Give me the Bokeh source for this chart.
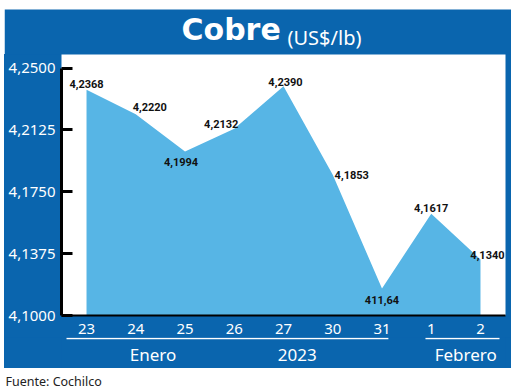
from bokeh.plotting import figure
from bokeh.models import (Range1d, FixedTicker, CustomJSTickFormatter, LinearAxis,
                          ColumnDataSource)
from bokeh.layouts import column
from bokeh.core.properties import value
from bokeh.embed import file_html
from bokeh.resources import INLINE

# ---- data ----
days = ["23", "24", "25", "26", "27", "30", "31", "1", "2"]
prices = [4.2368, 4.2220, 4.1994, 4.2132, 4.2390, 4.1853, 4.1164, 4.1617, 4.1340]
price_labels = ["4,2368", "4,2220", "4,1994", "4,2132", "4,2390", "4,1853", "411,64", "4,1617", "4,1340"]
months = ["Enero", "2023", "Febrero"]
y_ticks = [4.1000, 4.1375, 4.1750, 4.2125, 4.2500]
y_base = 4.10
title_main = "Cobre"
title_unit = "(US$/lb)"
source_note = "Fuente: Cochilco"

# ---- layout / style ----
BLUE = "#0a65ae"
LIGHT = "#57b5e5"
W = 507
LEFT, RIGHT = 57, 6
label_dx = [0, 14, -4, -13, 2, 19, 0, 0, 7]
label_dy = [-6, -7, 10, -5, -4, 0, 12, -6, -4]
month_pos = [1.35, 4.28, 7.70]
underline_x0 = [-0.406, 6.883]
underline_x1 = [6.13, 8.386]
xr = Range1d(-0.508, 8.508)


def bare(fig, fill):
    fig.border_fill_color = fill
    fig.background_fill_color = fill
    fig.outline_line_color = None
    fig.xgrid.visible = False
    fig.ygrid.visible = False
    return fig


# ---- title band (white strip above, blue band below) ----
pt = figure(width=W, height=54, output_backend="svg", toolbar_location=None,
            x_range=Range1d(0, W), y_range=Range1d(0, 54), min_border=0,
            x_axis_type=None, y_axis_type=None, frame_align=False)
bare(pt, "white")
pt.quad(left=[0], right=[W], bottom=[0], top=[45], fill_color=BLUE, line_color=None)
pt.text(x=[177], y=[25], text=[title_main], text_font=value("DejaVu Sans"), text_font_style="bold",
        text_font_size="30px", text_color="white", text_baseline="middle", text_align="left")
pt.text(x=[283], y=[17], text=[title_unit], text_font=value("Noto Sans"),
        text_font_size="20px", text_color="white", text_baseline="alphabetic", text_align="left")

# ---- main chart ----
src = ColumnDataSource(dict(x=list(range(len(days))), y=prices, lab=price_labels,
                            dx=label_dx, dy=label_dy))

p = figure(width=W, height=283, output_backend="svg", toolbar_location=None,
           x_range=xr, y_range=Range1d(4.10, 4.2582),
           min_border_left=LEFT, min_border_right=RIGHT, min_border_top=0, min_border_bottom=22,
           x_axis_location=None, y_axis_location=None)
bare(p, BLUE)
p.background_fill_color = "white"

p.varea(x="x", y1=y_base, y2="y", source=src, fill_color=LIGHT)
p.text(x="x", y="y", text="lab", x_offset="dx", y_offset="dy", source=src,
       text_align="center", text_baseline="middle", text_font=value("Roboto"),
       text_font_style="bold", text_font_size="11px", text_color="#111111")

yax = LinearAxis(ticker=FixedTicker(ticks=y_ticks), bounds=(4.10, 4.25),
                 formatter=CustomJSTickFormatter(code="return tick.toFixed(4).replace('.', ',')"))
yax.axis_line_color = "black"
yax.axis_line_width = 3
yax.major_tick_line_color = "black"
yax.major_tick_line_width = 3
yax.major_tick_in = 11
yax.major_tick_out = 0
yax.minor_tick_line_color = None
yax.major_label_text_color = "white"
yax.major_label_text_font = "Noto Sans"
yax.major_label_text_font_size = "15px"
yax.major_label_standoff = 6
p.add_layout(yax, "left")

xax = LinearAxis(ticker=FixedTicker(ticks=list(range(len(days)))),
                 formatter=CustomJSTickFormatter(args=dict(labels=days),
                                                 code="return labels[Math.round(tick)]"))
xax.axis_line_color = "black"
xax.axis_line_width = 2
xax.major_tick_line_color = None
xax.minor_tick_line_color = None
xax.major_label_text_color = "white"
xax.major_label_text_font = "Noto Sans"
xax.major_label_text_font_size = "15px"
xax.major_label_standoff = 2
p.add_layout(xax, "below")

# ---- month band ----
pm = figure(width=W, height=31, output_backend="svg", toolbar_location=None,
            x_range=xr, y_range=Range1d(0, 31),
            min_border_left=LEFT, min_border_right=RIGHT, min_border_top=0, min_border_bottom=0,
            x_axis_type=None, y_axis_type=None)
bare(pm, BLUE)
pm.segment(x0=underline_x0, y0=30, x1=underline_x1, y1=30, line_color="white", line_width=1.5)
pm.text(x=month_pos, y=[14] * len(months), text=months, text_font=value("Noto Sans"),
        text_font_size="17px", text_color="white", text_baseline="middle", text_align="center")

# ---- source line ----
pf = figure(width=W, height=21, output_backend="svg", toolbar_location=None,
            x_range=Range1d(0, W), y_range=Range1d(0, 21), min_border=0,
            x_axis_type=None, y_axis_type=None, frame_align=False)
bare(pf, "white")
pf.text(x=[1], y=[8], text=[source_note], text_font=value("Noto Sans"),
        text_font_size="12.5px", text_color="#222222", text_baseline="alphabetic", text_align="left")

blue_block = column(p, pm, spacing=0, styles={"background-color": BLUE})
layout = column(pt, blue_block, pf, spacing=0, margin=(0, 0, 0, 4))
open("out.html", "w").write(file_html(layout, INLINE))
